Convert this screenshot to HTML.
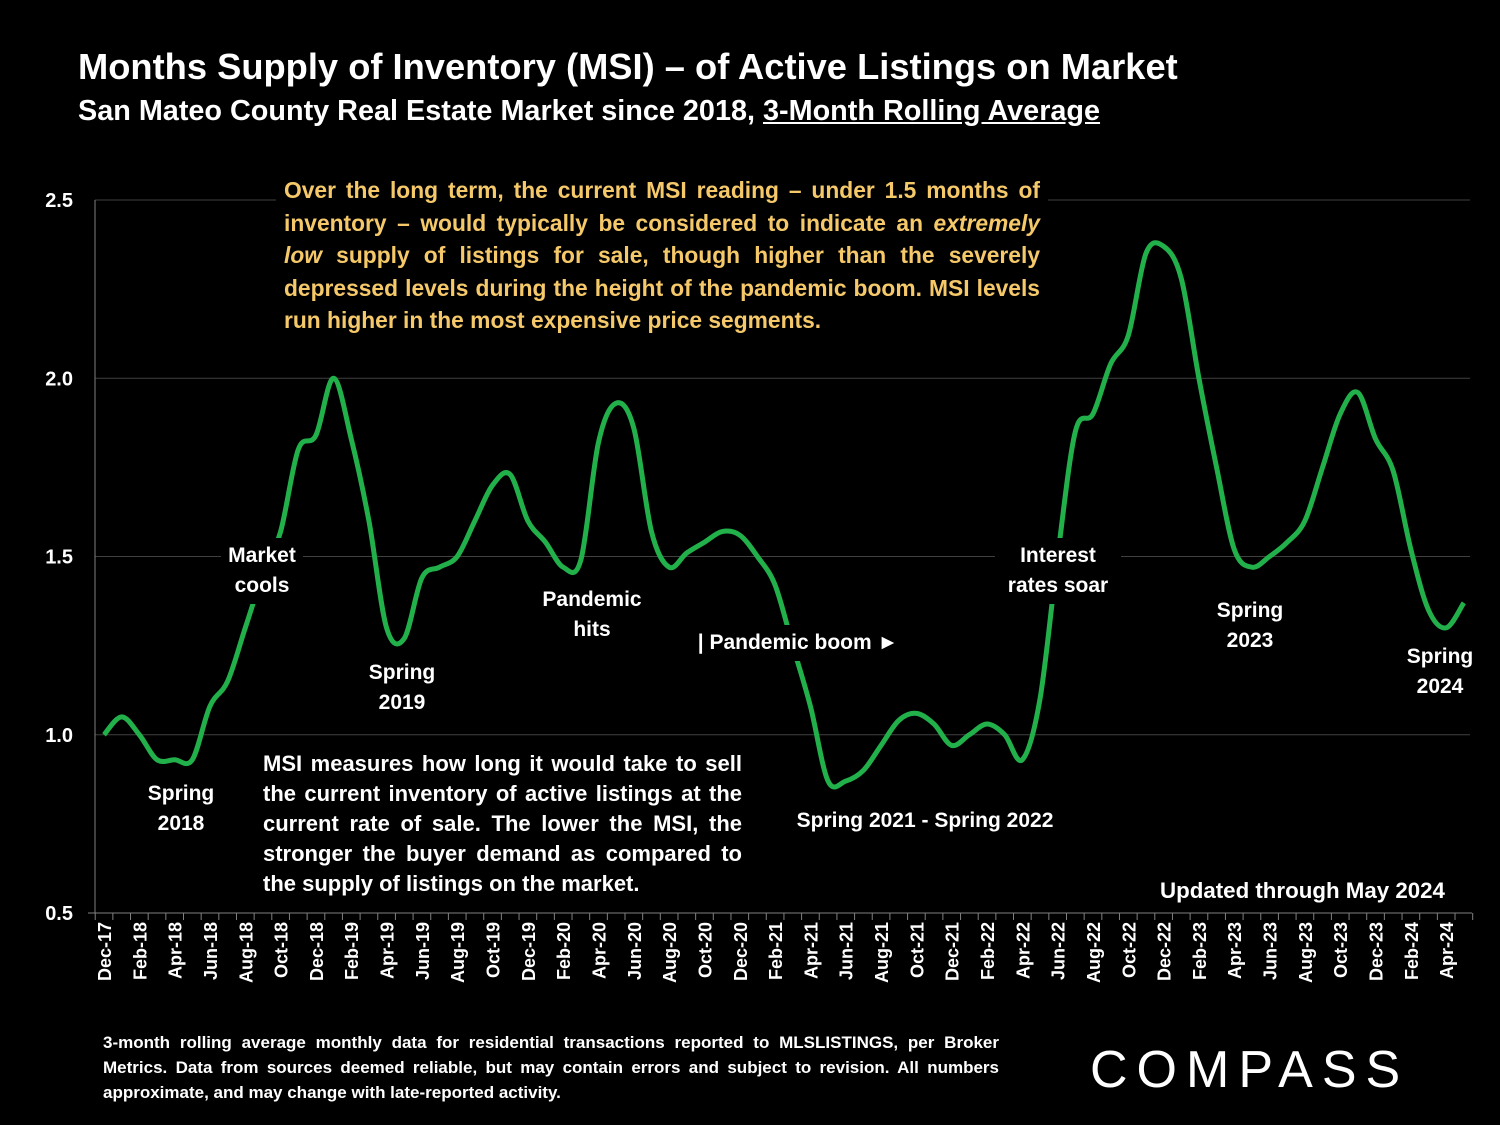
<!DOCTYPE html>
<html><head><meta charset="utf-8"><style>
body{margin:0;background:#000;width:1500px;height:1125px;overflow:hidden;font-family:"Liberation Sans",Arial,sans-serif;color:#fff}
.t{position:absolute;white-space:nowrap}
</style></head><body>
<div class="t" style="left:78px;top:46px;font-size:36.3px;font-weight:bold">Months Supply of Inventory (MSI) – of Active Listings on Market</div>
<div class="t" style="left:78px;top:95px;font-size:28.8px;font-weight:bold">San Mateo County Real Estate Market since 2018, <u>3-Month Rolling Average</u></div>
<svg width="1500" height="1125" style="position:absolute;left:0;top:0">
<g id="grid"></g><g id="axes"></g><path id="line" fill="none" stroke="#22b04b" stroke-width="5"/>
<g id="ann"></g>
</svg>
<div class="t" style="left:276px;top:174px;width:756px;white-space:normal;text-align:justify;font-size:22.8px;font-weight:bold;color:#f5c96a;line-height:32.5px;background:#000;padding:0 8px">Over the long term, the current MSI reading – under 1.5 months of inventory – would typically be considered to indicate an <i>extremely low</i> supply of listings for sale, though higher than the severely depressed levels during the height of the pandemic boom. MSI levels run higher in the most expensive price segments.</div>
<div class="t" style="left:263px;top:749px;width:479px;white-space:normal;text-align:justify;font-size:22px;font-weight:bold;line-height:30px">MSI measures how long it would take to sell the current inventory of active listings at the current rate of sale. The lower the MSI, the stronger the buyer demand as compared to the supply of listings on the market.</div>
<div class="t" style="left:1160px;top:878px;font-size:22.3px;font-weight:bold">Updated through May 2024</div>
<div class="t" style="left:103px;top:1030px;width:896px;white-space:normal;text-align:justify;font-size:17px;font-weight:bold;line-height:25px">3-month rolling average monthly data for residential transactions reported to MLSLISTINGS, per Broker Metrics. Data from sources deemed reliable, but may contain errors and subject to revision. All numbers approximate, and may change with late-reported activity.</div>
<div class="t" style="left:1090px;top:1040px;font-size:52px;letter-spacing:9px;font-weight:normal">COMPASS</div>
<script>
const months=["Dec-17","Jan-18","Feb-18","Mar-18","Apr-18","May-18","Jun-18","Jul-18","Aug-18","Sep-18","Oct-18","Nov-18","Dec-18","Jan-19","Feb-19","Mar-19","Apr-19","May-19","Jun-19","Jul-19","Aug-19","Sep-19","Oct-19","Nov-19","Dec-19","Jan-20","Feb-20","Mar-20","Apr-20","May-20","Jun-20","Jul-20","Aug-20","Sep-20","Oct-20","Nov-20","Dec-20","Jan-21","Feb-21","Mar-21","Apr-21","May-21","Jun-21","Jul-21","Aug-21","Sep-21","Oct-21","Nov-21","Dec-21","Jan-22","Feb-22","Mar-22","Apr-22","May-22","Jun-22","Jul-22","Aug-22","Sep-22","Oct-22","Nov-22","Dec-22","Jan-23","Feb-23","Mar-23","Apr-23","May-23","Jun-23","Jul-23","Aug-23","Sep-23","Oct-23","Nov-23","Dec-23","Jan-24","Feb-24","Mar-24","Apr-24","May-24"];
const msi=[1.00,1.05,1.00,0.93,0.93,0.93,1.08,1.15,1.30,1.45,1.57,1.80,1.84,2.00,1.83,1.60,1.30,1.27,1.44,1.47,1.50,1.60,1.70,1.73,1.60,1.54,1.47,1.49,1.82,1.93,1.86,1.57,1.47,1.51,1.54,1.57,1.56,1.50,1.42,1.25,1.08,0.87,0.87,0.90,0.97,1.04,1.06,1.03,0.97,1.00,1.03,1.00,0.93,1.10,1.50,1.85,1.90,2.04,2.12,2.35,2.37,2.28,2.00,1.75,1.52,1.47,1.50,1.54,1.60,1.75,1.90,1.96,1.83,1.74,1.52,1.35,1.30,1.37];
const yTicks=[0.5,1.0,1.5,2.0,2.5];
const X=i=>104+i*17.66, Y=v=>913-(v-0.5)*356.5;
const NS="http://www.w3.org/2000/svg";
function mk(tag,attrs,parent){const e=document.createElementNS(NS,tag);for(const k in attrs)e.setAttribute(k,attrs[k]);document.getElementById(parent).appendChild(e);return e;}
yTicks.forEach(v=>{
 if(v>0.5){const l=mk('line',{x1:95,x2:1470,y1:Y(v),y2:Y(v),stroke:'#404040','stroke-width':1},'grid');
 
 }
 const t=mk('text',{x:73,y:Y(v)+7,'text-anchor':'end',fill:'#fff','font-size':20,'font-weight':'bold'},'axes');t.textContent=v.toFixed(1);
 
 
});
mk('line',{x1:95,x2:95,y1:200,y2:913,stroke:'#808080'},'axes');
mk('line',{x1:88,x2:1472,y1:913,y2:913,stroke:'#808080'},'axes');
for(let i=0;i<=months.length;i++){mk('line',{x1:X(i)-8.8,x2:X(i)-8.8,y1:913,y2:920,stroke:'#808080'},'axes');}
months.forEach((m,i)=>{if(i%2)return;
 const t=mk('text',{transform:`translate(${X(i)+7},922) rotate(-90)`,'text-anchor':'end',fill:'#fff','font-size':18,'font-weight':'bold'},'axes');t.textContent=m;
 
 
});
const P=msi.map((v,i)=>[X(i),Y(v)]);
let d=`M${P[0][0]},${P[0][1]}`;
for(let i=0;i<P.length-1;i++){const p0=P[Math.max(0,i-1)],p1=P[i],p2=P[i+1],p3=P[Math.min(P.length-1,i+2)];
 d+=` C${p1[0]+(p2[0]-p0[0])/6},${p1[1]+(p2[1]-p0[1])/6} ${p2[0]-(p3[0]-p1[0])/6},${p2[1]-(p3[1]-p1[1])/6} ${p2[0]},${p2[1]}`;}
document.getElementById('line').setAttribute('d',d);
const anns=[["Market~cools",262,562,"market-cools-label"],["Spring~2018",181,800,"spring-2018-label"],["Spring~2019",402,679,"spring-2019-label"],["Pandemic~hits",592,606,"pandemic-hits-label"],["| Pandemic boom ►",798,649,"pandemic-boom-label"],["Spring 2021 - Spring 2022",925,827,"spring-2021-2022-label"],["Interest~rates soar",1058,562,"interest-rates-label"],["Spring~2023",1250,617,"spring-2023-label"],["Spring~2024",1440,663,"spring-2024-label"]];
anns.forEach(a=>{const lines=a[0].split('~');
 const w=Math.max(...lines.map(s=>s.length))*11+16,h=lines.length*30+6;
 mk('rect',{x:a[1]-w/2,y:a[2]-24,width:w,height:h,fill:'#000'},'ann');
 lines.forEach((s,k)=>{const t=mk('text',{x:a[1],y:a[2]+k*30,'text-anchor':'middle',fill:'#fff','font-size':21,'font-weight':'bold'},'ann');t.textContent=s;
 
 });
});
</script>
</body></html>
